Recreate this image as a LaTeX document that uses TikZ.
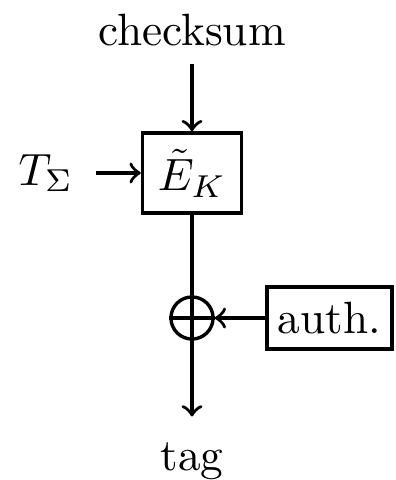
\documentclass[tikz,border=0pt]{standalone}
\begin{document}
\begin{tikzpicture}[x=0.221pt,y=-0.221pt, line width=0.75pt, >=to,
  box/.style={draw, rectangle, inner sep=0pt}]
\useasboundingbox (0,0) rectangle (395,480);
\node[anchor=base, inner sep=3.8pt] (cs) at (192,45) {checksum};
\node[box, minimum width=21.9pt, minimum height=17.7pt] (E) at (192,173) {$\tilde{E}_K$};
\node[anchor=base, inner xsep=4.6pt, inner ysep=0pt] (T) at (46,185) {$T_\Sigma$};
\node[draw, circle, minimum size=9.3pt, inner sep=0pt] (X) at (192,318) {};
\node[box, minimum width=27.6pt, minimum height=13.7pt] (A) at (329.5,318) {auth.};
\node[anchor=base, inner sep=5.3pt] (tag) at (192,470) {tag};
\draw[->] (cs.south) -- (cs.south |- E.north);
\draw[->] (T.east |- E.west) -- (E.west);
\draw (E.south) -- (X.north);
\draw (X.west) -- (X.east);
\draw[->] (A.west) -- (X.east);
\draw[->] (X.north) -- (X.north |- tag.north);
\end{tikzpicture}
\end{document}
